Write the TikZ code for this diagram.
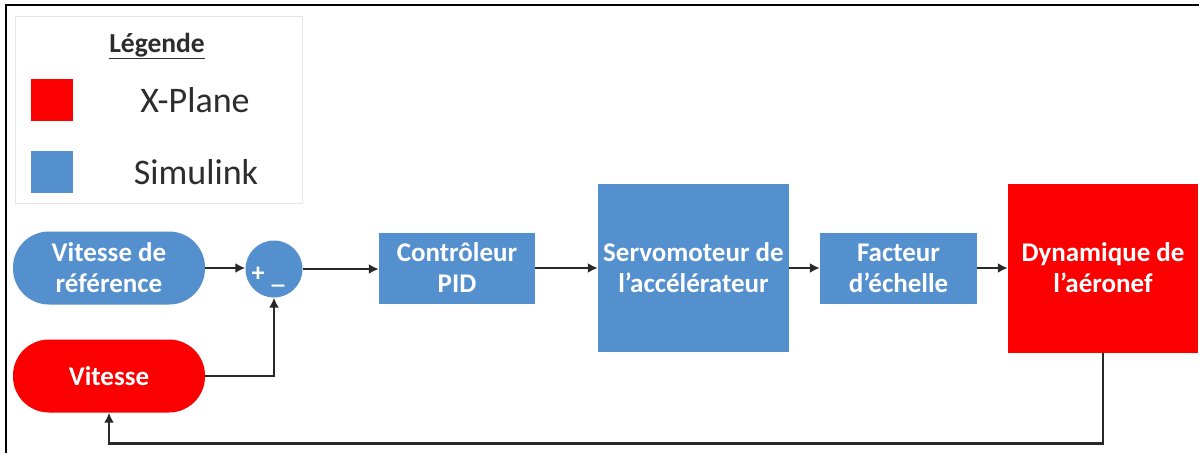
\documentclass[tikz,border=0pt]{standalone}
\usepackage{fontspec}
\setmainfont{Carlito}
\usetikzlibrary{arrows.meta}
\definecolor{simblue}{RGB}{84,144,206}
\definecolor{xpred}{RGB}{250,0,0}
\definecolor{linegray}{RGB}{40,40,40}
\definecolor{legtext}{RGB}{45,45,45}
\begin{document}
\begin{tikzpicture}[x=1pt,y=-1pt,
  nodefont/.style={font=\fontsize{27}{31}\selectfont\bfseries},
  blk/.style={draw=none, fill=simblue, text=white, nodefont, align=center, inner sep=0pt},
  redblk/.style={blk, fill=xpred},
  pill/.style={blk, rounded corners=36pt, minimum width=192pt, minimum height=73pt},
  arr/.style={draw=linegray, line width=2.7pt, -{Latex[length=10pt,width=10pt]}},
  legentry/.style={text=legtext, font=\fontsize{36}{40}\selectfont, inner sep=0pt},
  legsq/.style={minimum size=42pt, inner sep=0pt, draw=none},
  signfont/.style={text=white, font=\fontsize{26}{26}\selectfont\bfseries, inner sep=0pt}
]
\useasboundingbox (0,0) rectangle (1199,453);
% frame
\draw[line width=2pt, black] (6,453) -- (6,5) -- (1199,5);

% legend
\node[draw=black!10, line width=1pt, fill=white, minimum width=287pt, minimum height=187pt, anchor=north west, inner sep=0pt] (leg) at (15,16) {};
\node[text=legtext, font=\fontsize{27.5}{30}\selectfont\bfseries, inner sep=0pt] (legtitle) at (157,46) {\underline{Légende}};
\node[legsq, fill=xpred] (legred) at (52,99.5) {};
\node[legsq, fill=simblue] (legblue) at (52,171.5) {};
\node[legentry] (legxp) at (195,100) {X-Plane};
\node[legentry] (legsim) at (196,172) {Simulink};

% blocks
\node[pill] (ref) at (109,268) {Vitesse de\\référence};
\node[pill, fill=xpred] (vit) at (109,376) {Vitesse};
\node[circle, fill=simblue, minimum size=57pt, inner sep=0pt] (sum) at (274,269) {};
\node[signfont] (plus) at (258,274) {+};
\node[signfont] (minus) at (278,285) {\_};
\node[blk, minimum width=156pt, minimum height=71pt] (pid) at (457,268) {Contrôleur\\PID};
\node[blk, minimum width=191pt, minimum height=168pt] (servo) at (693.5,268) {Servomoteur de\\l’accélérateur};
\node[blk, minimum width=157pt, minimum height=71pt] (fact) at (898.5,268) {Facteur\\d’échelle};
\node[redblk, minimum width=190pt, minimum height=169pt] (dyn) at (1103,268) {Dynamique de\\l’aéronef};

% connectors
\draw[arr] (ref.east) -- (sum.west |- ref.east);
\draw[arr] (sum.east) -- (pid.west |- sum.east);
\draw[arr] (pid) -- (servo);
\draw[arr] (servo) -- (fact);
\draw[arr] (fact) -- (dyn);
\draw[arr] (vit.east) -| (sum.south);
\draw[arr] (dyn.south) -- ++(0,91) -| (vit.south);
\end{tikzpicture}
\end{document}
